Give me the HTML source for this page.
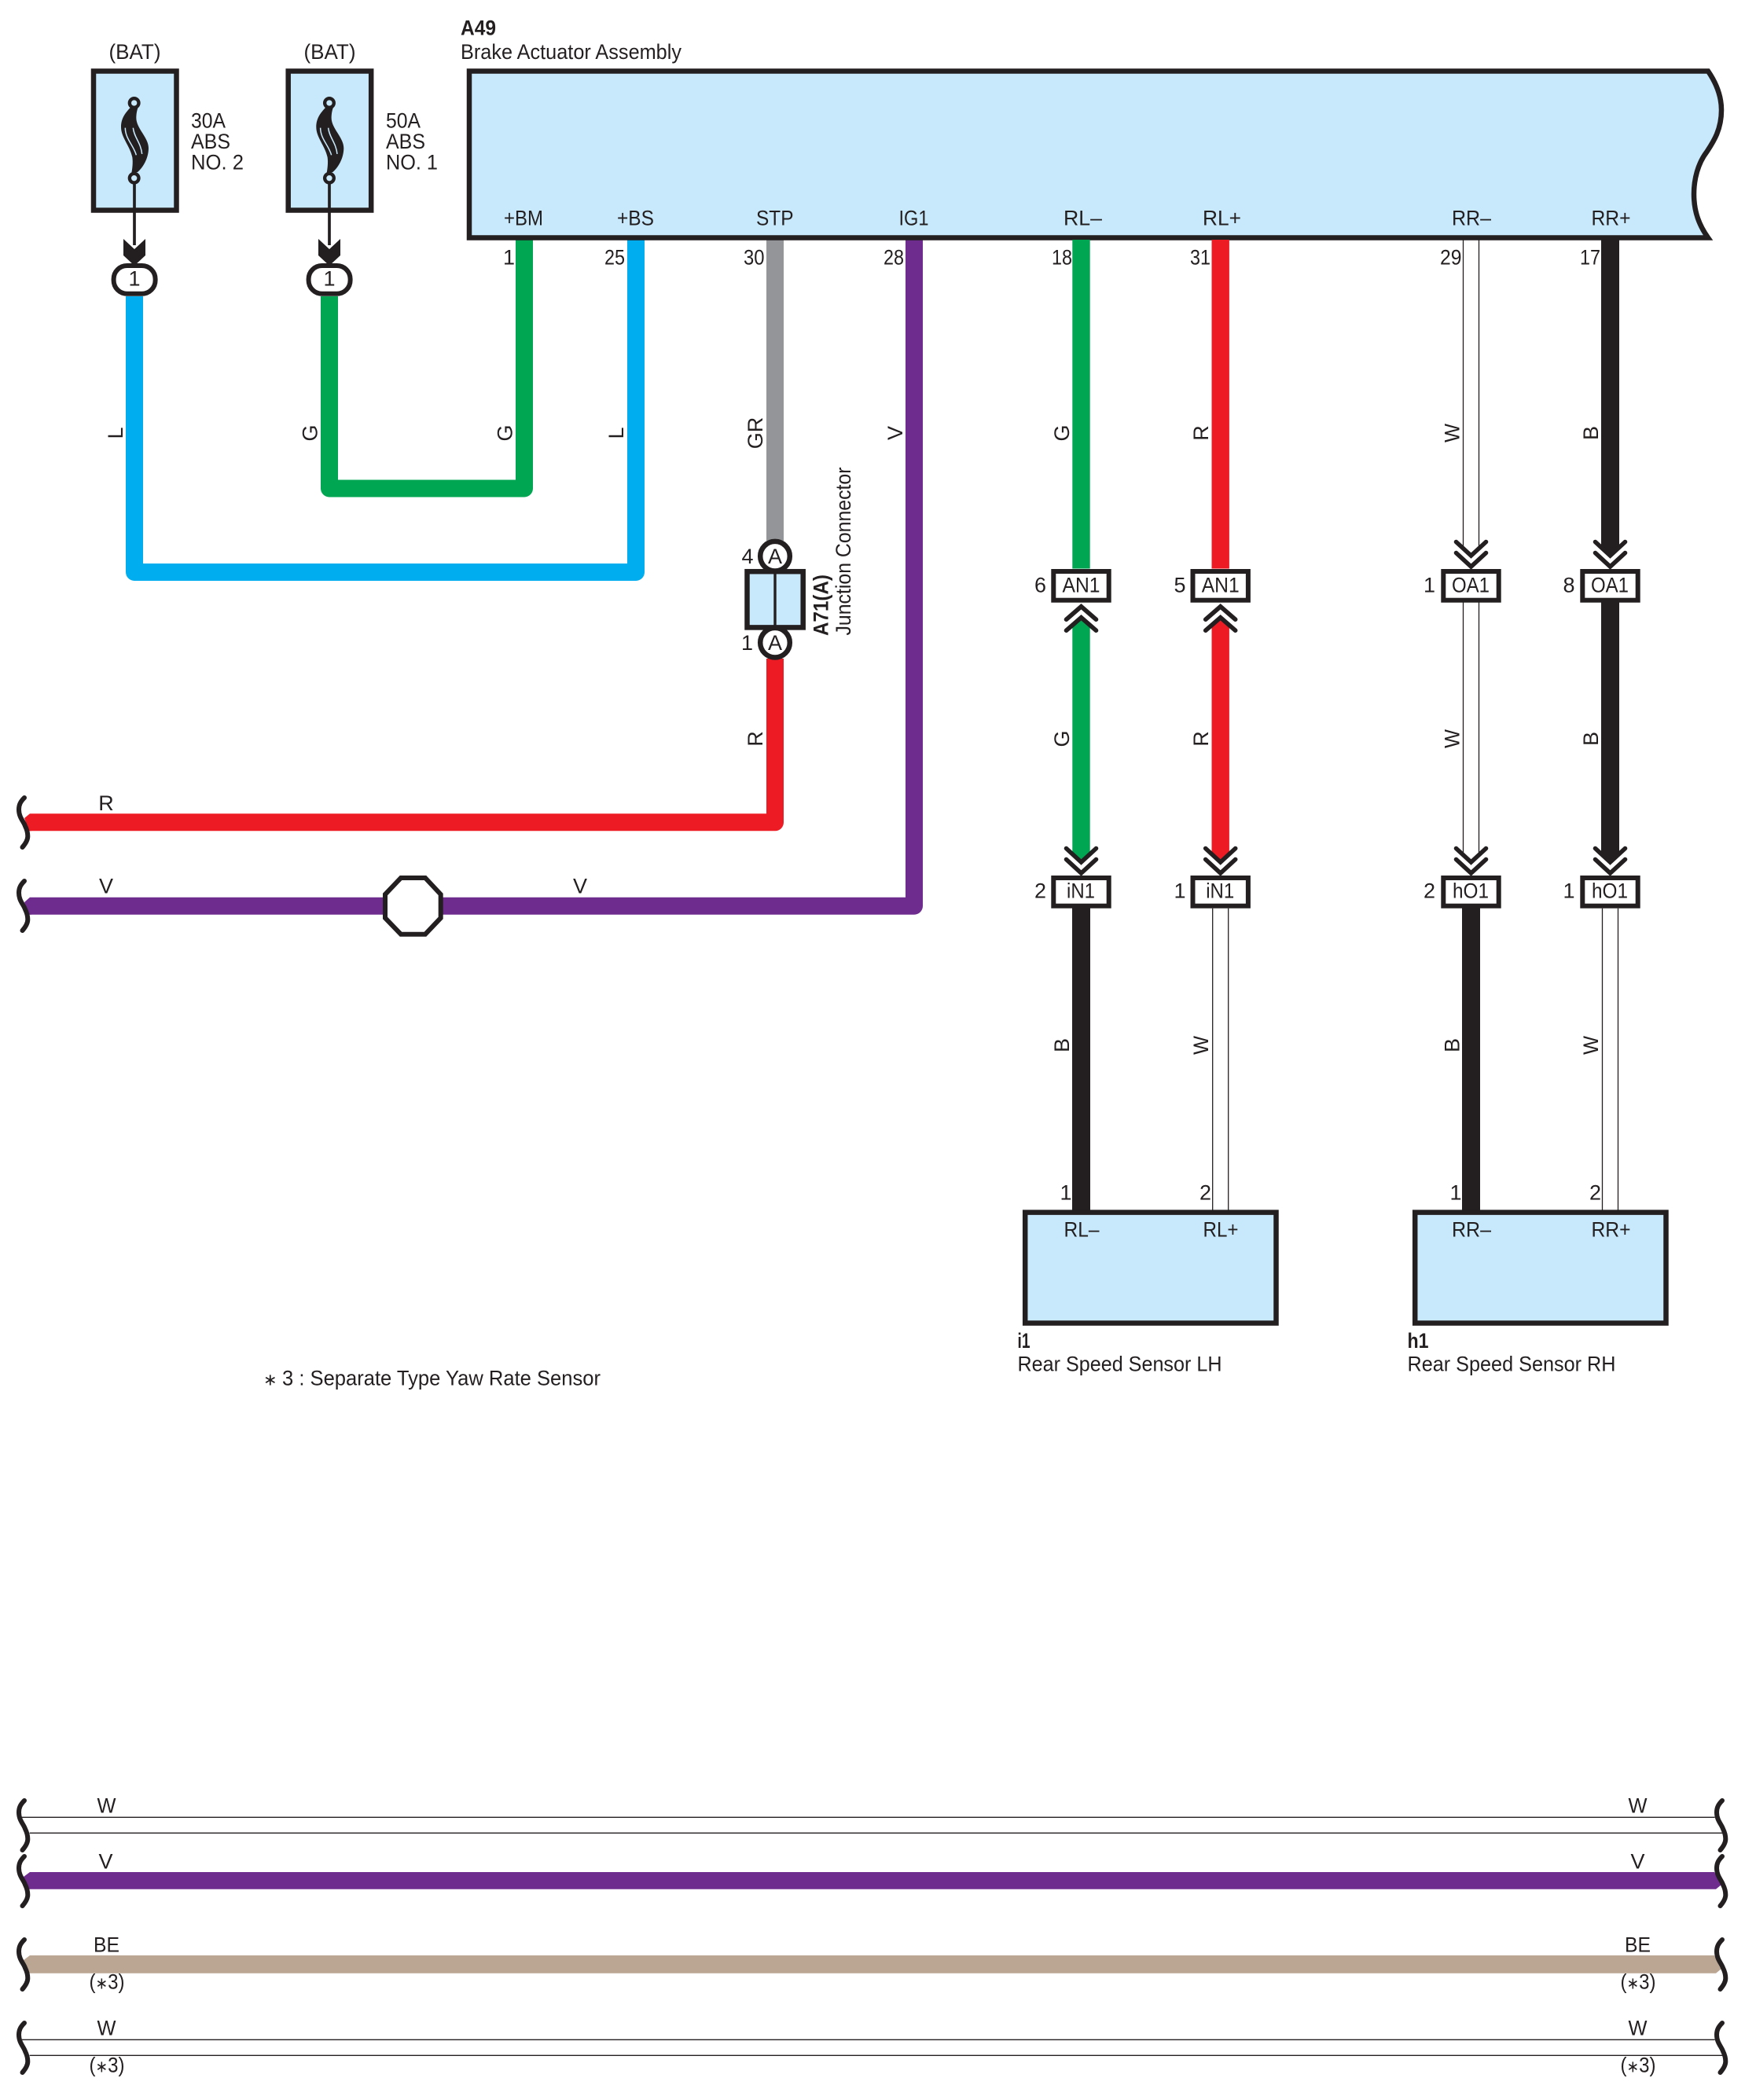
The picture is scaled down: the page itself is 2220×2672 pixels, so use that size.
<!DOCTYPE html>
<html>
<head>
<meta charset="utf-8">
<style>
html,body{margin:0;padding:0;background:#fff}
svg{display:block}
text{font-family:"Liberation Sans",sans-serif;font-size:27px;fill:#231f20}
.b{font-weight:bold}
.m{text-anchor:middle}
.k{fill:none;stroke:#231f20;stroke-width:5.6;stroke-linecap:round;stroke-linejoin:miter}
.w{fill:none;stroke-width:22;stroke-linejoin:round}
.l{stroke:#231f20;stroke-width:1.3;fill:none}
.bx{fill:#c8e8fb;stroke:#231f20;stroke-width:6.5;stroke-linejoin:miter}
.cb{fill:#fff;stroke:#231f20;stroke-width:6}
.sq{fill:none;stroke:#231f20;stroke-width:6;stroke-linecap:round}
tspan.a{font-size:21px}
</style>
</head>
<body>
<svg xmlns="http://www.w3.org/2000/svg" width="2220" height="2672" viewBox="0 0 2220 2672">
<defs>
<path id="s" class="sq" d="M31,3 C26,8 24,12 24,18 C24,28 30,33 32,39 C34,43 35.3,47 35.3,52 C35.3,57 32,62 28.5,66"/>
<g id="fuse">
<path d="M78,50 C60,70 42,90 42,125 C42,165 75,195 85,240 C88,260 85,285 82,300 L105,297 C125,280 147,245 147,205 C147,165 100,130 100,90 C100,75 103,60 107,50 Z" fill="#231f20"/>
<path d="M58,128 C58,170 90,195 100,232 M88,128 C92,165 118,185 122,228" fill="none" stroke="#c8e8fb" stroke-width="4.5"/>
<circle cx="92" cy="33" r="17.5" fill="#c8e8fb" stroke="#231f20" stroke-width="13"/>
<circle cx="92" cy="320" r="17.5" fill="#c8e8fb" stroke="#231f20" stroke-width="13"/>
</g>
<path id="dn" class="k" d="M-19,0 L0,17.5 L19,0 M-19,14 L0,31.5 L19,14"/>
<path id="up" class="k" d="M-19,16.5 L0,0 L19,16.5 M-19,30.5 L0,14 L19,30.5"/>
</defs>

<!-- coloured wires -->
<path class="w" stroke="#00aeef" d="M171,377 V728 H809 V305"/>
<path class="w" stroke="#00a651" d="M419,377 V621.5 H667 V305"/>
<path class="w" stroke="#939598" d="M986,305 V690"/>
<path class="w" stroke="#ed1c24" d="M38,1046.3 H986 V838"/>
<polygon fill="#ed1c24" points="38,1035.3 31,1041 37,1057.3 40,1057.3"/>
<path class="w" stroke="#6e2c8e" d="M38,1152.7 H1163 V305"/>
<polygon fill="#6e2c8e" points="38,1141.7 31,1148 37,1163.7 40,1163.7"/>

<!-- main assembly -->
<path class="bx" d="M597,90.5 H2173 C2185,108 2190,125 2190,140 C2190,165 2180,180 2171.5,193 C2160,208 2155,228 2155,247 C2155,270 2162,287 2173,302.5 H597 Z"/>

<!-- fuses -->
<rect class="bx" x="119" y="90.5" width="105.5" height="177"/>
<rect class="bx" x="366.7" y="90.5" width="105.5" height="177"/>
<g transform="translate(140,120) scale(.3333)"><use href="#fuse"/></g>
<g transform="translate(388.3,120) scale(.3333)"><use href="#fuse"/></g>
<path d="M171,234 V312" stroke="#231f20" stroke-width="3.7"/>
<path d="M419,234 V312" stroke="#231f20" stroke-width="3.7"/>
<polygon fill="#231f20" points="157,304 171,317 185,304 185,325 171,338 157,325"/>
<polygon fill="#231f20" points="405,304 419,317 433,304 433,325 419,338 405,325"/>
<rect class="cb" x="144.6" y="338" width="53" height="35.7" rx="17" ry="17"/>
<rect class="cb" x="392.6" y="338" width="53" height="35.7" rx="17" ry="17"/>

<!-- junction connector -->
<circle cx="986" cy="707.7" r="18.8" fill="#fff" stroke="#231f20" stroke-width="6.5"/>
<circle cx="986" cy="817.7" r="18.8" fill="#fff" stroke="#231f20" stroke-width="6.5"/>
<rect class="bx" x="950.5" y="727.2" width="71.2" height="71.2"/>
<path d="M986,727 V799" stroke="#231f20" stroke-width="3.4"/>

<!-- octagon -->
<polygon points="510,1117 541,1117 560.7,1138 560.7,1168 541,1188.7 510,1188.7 490,1168 490,1138" fill="#fff" stroke="#231f20" stroke-width="6"/>

<!-- RL- column -->
<rect x="1364.3" y="305" width="22.4" height="418.5" fill="#00a651"/>
<polygon fill="#00a651" points="1375.5,786 1386.7,796 1386.7,1087 1375.5,1097 1364.3,1087 1364.3,796"/>
<rect x="1364" y="1155" width="23" height="385" fill="#231f20"/>
<!-- RL+ column -->
<rect x="1541.5" y="305" width="22.4" height="418.5" fill="#ed1c24"/>
<polygon fill="#ed1c24" points="1552.7,786 1563.9,796 1563.9,1087 1552.7,1097 1541.5,1087 1541.5,796"/>
<path class="l" d="M1542.7,1155.7 V1540 M1562.7,1155.7 V1540"/>
<!-- RR- column -->
<path class="l" d="M1861.5,305 V698 M1881.5,305 V698 M1861.5,766 V1088 M1881.5,766 V1088"/>
<rect x="1860" y="1155" width="23" height="385" fill="#231f20"/>
<!-- RR+ column -->
<polygon fill="#231f20" points="2037,305 2060,305 2060,697 2048.5,707 2037,697"/>
<polygon fill="#231f20" points="2037,766 2060,766 2060,1087 2048.5,1097 2037,1087"/>
<path class="l" d="M2038.5,1155.7 V1540 M2058.5,1155.7 V1540"/>

<!-- chevrons -->
<use href="#up" x="1375.5" y="771.7"/>
<use href="#up" x="1552.7" y="771.7"/>
<use href="#dn" x="1375.5" y="1079.5"/>
<use href="#dn" x="1552.7" y="1079.5"/>
<use href="#dn" x="1871.5" y="689.5"/>
<use href="#dn" x="2048.5" y="689.5"/>
<use href="#dn" x="1871.5" y="1079.5"/>
<use href="#dn" x="2048.5" y="1079.5"/>

<!-- connector boxes -->
<rect class="cb" x="1340.3" y="727" width="70.4" height="36.7"/>
<rect class="cb" x="1517.5" y="727" width="70.4" height="36.7"/>
<rect class="cb" x="1836.3" y="727" width="70.4" height="36.7"/>
<rect class="cb" x="2013.3" y="727" width="70.4" height="36.7"/>
<rect class="cb" x="1340.3" y="1117" width="70.4" height="35.7"/>
<rect class="cb" x="1517.5" y="1117" width="70.4" height="35.7"/>
<rect class="cb" x="1836.3" y="1117" width="70.4" height="35.7"/>
<rect class="cb" x="2013.3" y="1117" width="70.4" height="35.7"/>

<!-- sensors -->
<rect class="bx" x="1304.2" y="1542.6" width="319.3" height="140.9"/>
<rect class="bx" x="1800.2" y="1542.6" width="319.3" height="140.9"/>

<!-- bottom wires -->
<path class="l" d="M28,2312.3 H2181.7 M37.7,2332.3 H2191.7"/>
<polygon fill="#6e2c8e" points="38,2382 30,2388 37,2403.7 2183,2403.7 2190,2398 2181,2382"/>
<polygon fill="#baa693" points="38,2488 30,2494 37,2510.7 2183,2510.7 2190,2505 2181,2488"/>
<path class="l" d="M28,2595.3 H2181.7 M37.7,2615.3 H2191.7"/>

<!-- squiggles -->
<use href="#s" x="0" y="1012"/>
<use href="#s" x="0" y="1118"/>
<use href="#s" x="0" y="2288"/>
<use href="#s" x="0" y="2359"/>
<use href="#s" x="0" y="2465"/>
<use href="#s" x="0" y="2571"/>
<use href="#s" x="2160" y="2288"/>
<use href="#s" x="2160" y="2359"/>
<use href="#s" x="2160" y="2465"/>
<use href="#s" x="2160" y="2571"/>

<!-- header text -->
<text x="138.5" y="75" textLength="66" lengthAdjust="spacingAndGlyphs">(BAT)</text>
<text x="386.5" y="75" textLength="66" lengthAdjust="spacingAndGlyphs">(BAT)</text>
<text x="586" y="44.3" class="b" textLength="45" lengthAdjust="spacingAndGlyphs">A49</text>
<text x="586" y="75" textLength="281" lengthAdjust="spacingAndGlyphs">Brake Actuator Assembly</text>
<text x="243" y="162.3" textLength="44" lengthAdjust="spacingAndGlyphs">30A</text>
<text x="243" y="189" textLength="50" lengthAdjust="spacingAndGlyphs">ABS</text>
<text x="243" y="215.7" textLength="67" lengthAdjust="spacingAndGlyphs">NO. 2</text>
<text x="491" y="162.3" textLength="44" lengthAdjust="spacingAndGlyphs">50A</text>
<text x="491" y="189" textLength="50" lengthAdjust="spacingAndGlyphs">ABS</text>
<text x="491" y="215.7" textLength="66" lengthAdjust="spacingAndGlyphs">NO. 1</text>
<text x="171" y="363.3" class="m">1</text>
<text x="419" y="363.3" class="m">1</text>

<!-- pin names -->
<text x="641" y="286.7" textLength="50" lengthAdjust="spacingAndGlyphs">+BM</text>
<text x="785" y="286.7" textLength="47" lengthAdjust="spacingAndGlyphs">+BS</text>
<text x="962" y="286.7" textLength="47.5" lengthAdjust="spacingAndGlyphs">STP</text>
<text x="1143.5" y="286.7" textLength="38" lengthAdjust="spacingAndGlyphs">IG1</text>
<text x="1353" y="286.7" textLength="49" lengthAdjust="spacingAndGlyphs">RL–</text>
<text x="1530" y="286.7" textLength="49" lengthAdjust="spacingAndGlyphs">RL+</text>
<text x="1847" y="286.7" textLength="50" lengthAdjust="spacingAndGlyphs">RR–</text>
<text x="2024.5" y="286.7" textLength="50" lengthAdjust="spacingAndGlyphs">RR+</text>

<!-- pin numbers -->
<text x="640" y="336.7">1</text>
<text x="769" y="336.7" textLength="26" lengthAdjust="spacingAndGlyphs">25</text>
<text x="946" y="336.7" textLength="26.5" lengthAdjust="spacingAndGlyphs">30</text>
<text x="1124" y="336.7" textLength="26" lengthAdjust="spacingAndGlyphs">28</text>
<text x="1338" y="336.7" textLength="26" lengthAdjust="spacingAndGlyphs">18</text>
<text x="1514" y="336.7" textLength="26" lengthAdjust="spacingAndGlyphs">31</text>
<text x="1832" y="336.7" textLength="27.5" lengthAdjust="spacingAndGlyphs">29</text>
<text x="2010" y="336.7" textLength="26" lengthAdjust="spacingAndGlyphs">17</text>

<!-- rotated wire labels, upper -->
<text transform="translate(156,551) rotate(-90)" class="m">L</text>
<text transform="translate(403.7,551) rotate(-90)" class="m">G</text>
<text transform="translate(651.5,551) rotate(-90)" class="m">G</text>
<text transform="translate(793,551) rotate(-90)" class="m">L</text>
<text transform="translate(970,551) rotate(-90)" class="m">GR</text>
<text transform="translate(1148,551) rotate(-90)" class="m">V</text>
<text transform="translate(1360,551) rotate(-90)" class="m">G</text>
<text transform="translate(1537,551) rotate(-90)" class="m">R</text>
<text transform="translate(1856.5,551) rotate(-90)" class="m" textLength="24" lengthAdjust="spacingAndGlyphs">W</text>
<text transform="translate(2033,551) rotate(-90)" class="m">B</text>
<!-- middle -->
<text transform="translate(970,940) rotate(-90)" class="m">R</text>
<text transform="translate(1360,940) rotate(-90)" class="m">G</text>
<text transform="translate(1537,940) rotate(-90)" class="m">R</text>
<text transform="translate(1856.5,940) rotate(-90)" class="m" textLength="24" lengthAdjust="spacingAndGlyphs">W</text>
<text transform="translate(2033,940) rotate(-90)" class="m">B</text>
<!-- lower -->
<text transform="translate(1360,1330) rotate(-90)" class="m">B</text>
<text transform="translate(1537,1330) rotate(-90)" class="m" textLength="24" lengthAdjust="spacingAndGlyphs">W</text>
<text transform="translate(1856.5,1330) rotate(-90)" class="m">B</text>
<text transform="translate(2033,1330) rotate(-90)" class="m" textLength="24" lengthAdjust="spacingAndGlyphs">W</text>

<!-- junction labels -->
<text x="986" y="717" class="m">A</text>
<text x="986" y="827" class="m">A</text>
<text x="943.5" y="717">4</text>
<text x="943" y="827">1</text>
<text transform="translate(1053.3,809) rotate(-90)" class="b" textLength="78" lengthAdjust="spacingAndGlyphs">A71(A)</text>
<text transform="translate(1082,808.5) rotate(-90)" textLength="214" lengthAdjust="spacingAndGlyphs">Junction Connector</text>

<!-- left wire labels -->
<text x="135" y="1031" class="m">R</text>
<text x="135" y="1136.7" class="m">V</text>
<text x="738" y="1136.7" class="m">V</text>

<!-- connector labels -->
<text x="1351.5" y="753.3" textLength="48" lengthAdjust="spacingAndGlyphs">AN1</text>
<text x="1528.7" y="753.3" textLength="48" lengthAdjust="spacingAndGlyphs">AN1</text>
<text x="1847" y="753.3" textLength="48" lengthAdjust="spacingAndGlyphs">OA1</text>
<text x="2024" y="753.3" textLength="48" lengthAdjust="spacingAndGlyphs">OA1</text>
<text x="1357" y="1142.3" textLength="36" lengthAdjust="spacingAndGlyphs">iN1</text>
<text x="1534.2" y="1142.3" textLength="36" lengthAdjust="spacingAndGlyphs">iN1</text>
<text x="1848" y="1142.3" textLength="46" lengthAdjust="spacingAndGlyphs">hO1</text>
<text x="2025" y="1142.3" textLength="46" lengthAdjust="spacingAndGlyphs">hO1</text>
<text x="1316" y="753.3">6</text>
<text x="1493.5" y="753.3">5</text>
<text x="1811" y="753.3">1</text>
<text x="1988.5" y="753.3">8</text>
<text x="1316" y="1142.3">2</text>
<text x="1493.5" y="1142.3">1</text>
<text x="1811" y="1142.3">2</text>
<text x="1988.5" y="1142.3">1</text>

<!-- sensor labels -->
<text x="1353.5" y="1573.3" textLength="45" lengthAdjust="spacingAndGlyphs">RL–</text>
<text x="1530.5" y="1573.3" textLength="45" lengthAdjust="spacingAndGlyphs">RL+</text>
<text x="1847" y="1573.3" textLength="50" lengthAdjust="spacingAndGlyphs">RR–</text>
<text x="2024.5" y="1573.3" textLength="50" lengthAdjust="spacingAndGlyphs">RR+</text>
<text x="1348.5" y="1526.7">1</text>
<text x="1526" y="1526.7">2</text>
<text x="1844.5" y="1526.7">1</text>
<text x="2022" y="1526.7">2</text>
<text x="1294.5" y="1715" class="b" textLength="16" lengthAdjust="spacingAndGlyphs">i1</text>
<text x="1294.5" y="1744.3" textLength="260" lengthAdjust="spacingAndGlyphs">Rear Speed Sensor LH</text>
<text x="1790.5" y="1715" class="b" textLength="27" lengthAdjust="spacingAndGlyphs">h1</text>
<text x="1790.5" y="1744.3" textLength="265" lengthAdjust="spacingAndGlyphs">Rear Speed Sensor RH</text>

<!-- note -->
<text x="335" y="1762.3" style="font-size:21px">∗</text>
<text x="359" y="1762.3" textLength="405" lengthAdjust="spacingAndGlyphs">3 : Separate Type Yaw Rate Sensor</text>

<!-- bottom labels -->
<text x="123.5" y="2306.7" textLength="24" lengthAdjust="spacingAndGlyphs">W</text>
<text x="134.5" y="2377.3" class="m">V</text>
<text x="119" y="2483.3" textLength="33" lengthAdjust="spacingAndGlyphs">BE</text>
<text x="113.5" y="2530.7" textLength="45" lengthAdjust="spacingAndGlyphs">(<tspan class="a">∗</tspan>3)</text>
<text x="123.5" y="2589.3" textLength="24" lengthAdjust="spacingAndGlyphs">W</text>
<text x="113.5" y="2636.7" textLength="45" lengthAdjust="spacingAndGlyphs">(<tspan class="a">∗</tspan>3)</text>
<text x="2071.5" y="2306.7" textLength="24" lengthAdjust="spacingAndGlyphs">W</text>
<text x="2083.5" y="2377.3" class="m">V</text>
<text x="2067" y="2483.3" textLength="33" lengthAdjust="spacingAndGlyphs">BE</text>
<text x="2061.5" y="2530.7" textLength="45" lengthAdjust="spacingAndGlyphs">(<tspan class="a">∗</tspan>3)</text>
<text x="2071.5" y="2589.3" textLength="24" lengthAdjust="spacingAndGlyphs">W</text>
<text x="2061.5" y="2636.7" textLength="45" lengthAdjust="spacingAndGlyphs">(<tspan class="a">∗</tspan>3)</text>
</svg>
</body>
</html>
